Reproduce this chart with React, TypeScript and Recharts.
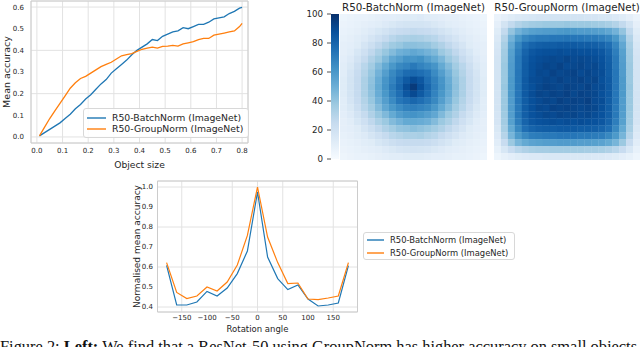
import React from 'react';
import {
  LineChart,
  Line,
  XAxis,
  YAxis,
  CartesianGrid,
  Legend,
  ReferenceArea,
  ScatterChart,
  Scatter,
  BarChart,
  Bar,
} from 'recharts';

// ---- top left: accuracy vs object size ----
const objectSize = [
  0.01, 0.03, 0.05, 0.07, 0.09, 0.11, 0.13, 0.15, 0.17, 0.19, 0.21, 0.23, 0.25, 0.27,
  0.29, 0.31, 0.33, 0.35, 0.37, 0.39, 0.41, 0.43, 0.45, 0.47, 0.49, 0.51, 0.53, 0.55,
  0.57, 0.59, 0.61, 0.63, 0.65, 0.67, 0.69, 0.71, 0.73, 0.75, 0.77, 0.79, 0.8,
];
const batchNormBySize = [
  0.005, 0.02, 0.035, 0.05, 0.065, 0.085, 0.105, 0.13, 0.15, 0.175, 0.195, 0.22, 0.245,
  0.265, 0.295, 0.315, 0.335, 0.355, 0.38, 0.4, 0.415, 0.43, 0.45, 0.445, 0.465, 0.475,
  0.485, 0.49, 0.505, 0.5, 0.51, 0.52, 0.52, 0.53, 0.545, 0.55, 0.555, 0.57, 0.58, 0.595,
  0.598,
];
const groupNormBySize = [
  0.005, 0.045, 0.085, 0.12, 0.155, 0.19, 0.225, 0.25, 0.27, 0.28, 0.295, 0.31, 0.325,
  0.335, 0.345, 0.36, 0.375, 0.38, 0.385, 0.395, 0.405, 0.41, 0.415, 0.41, 0.418, 0.42,
  0.423, 0.42, 0.43, 0.435, 0.44, 0.45, 0.455, 0.455, 0.47, 0.475, 0.48, 0.485, 0.49,
  0.51, 0.525,
];
const sizeTicks = [0, 0.1, 0.2, 0.3, 0.4, 0.5, 0.6, 0.7, 0.8];
const accTicks = [0, 0.1, 0.2, 0.3, 0.4, 0.5, 0.6];

// ---- bottom: accuracy vs rotation ----
const angles = [
  -180, -160, -140, -120, -100, -80, -60, -40, -20, 0, 20, 40, 60, 80, 100, 120, 140, 160, 180,
];
const batchNormByAngle = [
  0.608, 0.41, 0.41, 0.425, 0.478, 0.455, 0.495, 0.567, 0.68, 0.975, 0.65, 0.542, 0.487,
  0.51, 0.44, 0.405, 0.41, 0.42, 0.607,
];
const groupNormByAngle = [
  0.622, 0.473, 0.442, 0.455, 0.5, 0.48, 0.525, 0.61, 0.758, 1.0, 0.75, 0.622, 0.517, 0.52,
  0.44, 0.437, 0.445, 0.455, 0.622,
];
const angleTicks = [-150, -100, -50, 0, 50, 100, 150];
const normTicks = [0.4, 0.5, 0.6, 0.7, 0.8, 0.9, 1.0];

// ---- top right: accuracy heatmaps (percent), 21 x 21 cells ----
const batchNormGrid = [
  [5, 6, 7, 7, 8, 9, 10, 10, 11, 12, 12, 13, 11, 11, 10, 9, 9, 8, 7, 6, 5],
  [6, 7, 8, 9, 10, 11, 13, 15, 17, 18, 18, 18, 17, 15, 13, 11, 10, 9, 8, 7, 6],
  [7, 8, 9, 11, 13, 16, 19, 22, 24, 25, 26, 25, 24, 22, 19, 16, 13, 11, 9, 8, 7],
  [8, 9, 11, 13, 17, 21, 25, 29, 32, 33, 34, 33, 31, 29, 25, 21, 17, 13, 11, 9, 8],
  [9, 10, 12, 17, 22, 27, 32, 37, 39, 42, 42, 41, 40, 36, 32, 27, 22, 17, 12, 10, 9],
  [9, 11, 16, 21, 27, 33, 39, 44, 49, 51, 53, 51, 48, 45, 38, 33, 27, 21, 16, 11, 9],
  [10, 13, 19, 25, 32, 38, 45, 53, 57, 62, 61, 63, 57, 52, 46, 38, 32, 25, 19, 13, 10],
  [11, 15, 22, 29, 36, 44, 52, 60, 66, 68, 72, 68, 65, 61, 52, 44, 36, 29, 22, 15, 11],
  [11, 17, 24, 31, 39, 48, 57, 66, 72, 77, 78, 76, 73, 65, 57, 48, 39, 31, 24, 17, 11],
  [12, 18, 25, 33, 41, 51, 61, 68, 77, 84, 89, 85, 76, 69, 61, 51, 41, 33, 25, 18, 12],
  [12, 18, 25, 33, 42, 52, 62, 71, 79, 89, 96, 88, 79, 70, 62, 52, 42, 33, 25, 18, 12],
  [12, 18, 25, 33, 41, 51, 60, 69, 76, 85, 90, 84, 77, 68, 60, 51, 41, 33, 25, 18, 12],
  [11, 17, 24, 31, 39, 48, 57, 65, 73, 76, 79, 76, 72, 66, 57, 48, 39, 31, 24, 17, 11],
  [11, 15, 22, 29, 36, 44, 53, 60, 65, 69, 70, 68, 66, 60, 52, 44, 36, 29, 22, 15, 11],
  [10, 13, 19, 25, 32, 39, 45, 52, 58, 61, 62, 60, 57, 53, 45, 38, 32, 25, 19, 13, 10],
  [9, 11, 16, 21, 27, 33, 38, 44, 48, 52, 52, 51, 49, 44, 38, 33, 27, 21, 16, 11, 9],
  [9, 10, 12, 17, 22, 27, 32, 36, 40, 41, 43, 41, 39, 36, 32, 27, 22, 17, 12, 10, 9],
  [8, 9, 11, 13, 17, 21, 25, 29, 31, 33, 33, 34, 31, 29, 25, 21, 17, 13, 11, 9, 8],
  [7, 8, 9, 11, 12, 16, 19, 22, 24, 25, 25, 25, 24, 22, 19, 16, 12, 11, 9, 8, 7],
  [6, 7, 8, 9, 10, 11, 13, 15, 17, 18, 19, 18, 17, 15, 13, 11, 10, 9, 8, 7, 6],
  [5, 6, 7, 7, 8, 9, 10, 11, 11, 12, 12, 12, 11, 10, 10, 9, 8, 8, 7, 6, 5],
];
const groupNormGrid = [
  [6, 9, 12, 14, 15, 16, 17, 17, 18, 18, 18, 18, 18, 17, 17, 16, 16, 14, 12, 9, 6],
  [9, 18, 26, 31, 34, 36, 37, 38, 38, 38, 39, 38, 38, 38, 37, 36, 34, 31, 26, 18, 9],
  [12, 26, 40, 48, 53, 56, 57, 58, 58, 59, 60, 59, 58, 58, 57, 56, 53, 48, 40, 26, 12],
  [14, 31, 48, 60, 67, 70, 72, 72, 73, 73, 74, 73, 73, 72, 72, 70, 67, 60, 48, 31, 14],
  [16, 34, 53, 67, 76, 80, 82, 83, 83, 84, 84, 84, 83, 83, 82, 80, 76, 67, 53, 34, 16],
  [17, 36, 56, 70, 80, 85, 87, 88, 88, 89, 88, 89, 88, 88, 87, 85, 80, 70, 56, 36, 17],
  [18, 37, 57, 72, 82, 87, 89, 90, 91, 90, 92, 90, 91, 90, 89, 87, 82, 72, 57, 37, 18],
  [18, 38, 58, 72, 83, 88, 90, 92, 91, 93, 90, 91, 92, 90, 91, 88, 83, 72, 58, 38, 18],
  [18, 38, 58, 73, 83, 88, 91, 90, 93, 91, 92, 93, 90, 92, 90, 89, 83, 73, 58, 38, 18],
  [18, 38, 59, 73, 84, 89, 90, 92, 91, 93, 91, 92, 93, 91, 92, 88, 84, 73, 59, 38, 18],
  [18, 39, 59, 73, 84, 88, 91, 93, 92, 91, 93, 92, 91, 93, 90, 89, 84, 73, 59, 39, 18],
  [18, 38, 59, 73, 84, 89, 92, 91, 93, 92, 94, 91, 93, 92, 91, 88, 84, 73, 59, 38, 18],
  [18, 38, 58, 73, 83, 88, 90, 92, 91, 94, 92, 93, 92, 94, 90, 89, 83, 73, 58, 38, 18],
  [18, 38, 58, 72, 83, 88, 91, 90, 93, 92, 93, 92, 91, 92, 91, 88, 83, 72, 58, 38, 18],
  [17, 37, 57, 72, 82, 87, 89, 91, 90, 92, 91, 92, 90, 91, 89, 87, 82, 72, 57, 37, 17],
  [17, 36, 56, 70, 80, 85, 87, 88, 89, 88, 89, 88, 89, 88, 87, 85, 80, 70, 56, 36, 17],
  [15, 34, 52, 66, 76, 80, 82, 83, 83, 84, 84, 84, 83, 83, 82, 80, 76, 66, 52, 34, 15],
  [13, 30, 47, 59, 66, 70, 71, 72, 72, 73, 73, 73, 72, 72, 71, 70, 66, 59, 47, 30, 13],
  [11, 24, 38, 47, 52, 55, 56, 57, 57, 58, 58, 58, 57, 57, 56, 55, 52, 47, 38, 24, 11],
  [8, 16, 24, 29, 32, 34, 35, 35, 36, 36, 36, 36, 36, 35, 35, 34, 32, 29, 24, 16, 8],
  [5, 8, 10, 12, 13, 14, 14, 15, 15, 15, 15, 15, 15, 15, 14, 14, 13, 12, 10, 8, 5],
];
const colorbarTicks = [0, 20, 40, 60, 80, 100];

const seriesNames = ['R50-BatchNorm (ImageNet)', 'R50-GroupNorm (ImageNet)'];

const BLUE = '#1f77b4';
const ORANGE = '#ff7f0e';
const TEXT = '#262626';
const GRID = '#e2e2e2';
const FRAME = '#cccccc';
const FONT = '"DejaVu Sans", Verdana, sans-serif';

// matplotlib "Blues"
const BLUES = ['#f7fbff', '#deebf7', '#c6dbef', '#9ecae1', '#6baed6', '#4292c6', '#2171b5', '#08519c', '#08306b'];

function hex(c: string) {
  return [1, 3, 5].map((i) => parseInt(c.slice(i, i + 2), 16));
}
function blues(v: number) {
  const t = Math.max(0, Math.min(1, v / 100)) * 8;
  const i = Math.min(7, Math.floor(t));
  const f = t - i;
  const a = hex(BLUES[i]);
  const b = hex(BLUES[i + 1]);
  const m = a.map((x, k) => Math.round(x + (b[k] - x) * f));
  return `rgb(${m[0]},${m[1]},${m[2]})`;
}

const sizeData = objectSize.map((s, i) => ({ size: s, bn: batchNormBySize[i], gn: groupNormBySize[i] }));
const angleData = angles.map((a, i) => ({ angle: a, bn: batchNormByAngle[i], gn: groupNormByAngle[i] }));

const fmt1 = (v: number) => v.toFixed(1);
const fmtAngle = (v: number) => (v < 0 ? '\u2212' + Math.abs(v) : String(v));

type LegendBoxProps = {
  fontSize: number;
  rowHeight: number;
  lineLen: number;
  padTop: number;
};

const LegendBox = ({ fontSize, rowHeight, lineLen, padTop }: LegendBoxProps) => (
  <div
    style={{
      border: '1px solid #d8d8d8',
      borderRadius: 3,
      background: 'rgba(255,255,255,0.85)',
      boxSizing: 'border-box',
      width: '100%',
      height: '100%',
      paddingTop: padTop,
      fontFamily: FONT,
      fontSize,
      color: TEXT,
    }}
  >
    {[BLUE, ORANGE].map((c, i) => (
      <div key={i} style={{ display: 'flex', alignItems: 'center', height: rowHeight, whiteSpace: 'nowrap' }}>
        <svg width={lineLen + 9} height={4} style={{ flex: 'none' }}>
          <line x1={3} x2={3 + lineLen} y1={2} y2={2} stroke={c} strokeWidth={1.4} />
        </svg>
        <span>{seriesNames[i]}</span>
      </div>
    ))}
  </div>
);

const HM = 21;

const makeCells = (grid: number[][]) =>
  grid.flatMap((row, r) => row.map((v, c) => ({ col: c + 0.5, row: r + 0.5, v })));

const Heatmap = ({ grid, title, left, width }: { grid: number[][]; title: string; left: number; width: number }) => {
  const cell = width / HM;
  const cellH = 146 / HM;
  const HeatCell = (props: any) => {
    const { cx, cy, payload } = props;
    return (
      <rect
        x={cx - cell / 2}
        y={cy - cellH / 2}
        width={cell + 0.4}
        height={cellH + 0.4}
        fill={blues(payload.v)}
      />
    );
  };
  return (
    <div style={{ position: 'absolute', left, top: 0 }}>
      <ScatterChart width={width} height={160} margin={{ top: 0, right: 0, bottom: 0, left: 0 }}>
        <XAxis
          type="number"
          dataKey="col"
          domain={[0, HM]}
          orientation="top"
          height={14}
          tick={false}
          tickLine={false}
          axisLine={false}
          label={{ value: title, position: 'center', fill: TEXT, fontSize: 10.3, fontFamily: FONT }}
        />
        <YAxis type="number" dataKey="row" domain={[0, HM]} reversed hide />
        <Scatter data={makeCells(grid)} shape={HeatCell} isAnimationActive={false} />
      </ScatterChart>
    </div>
  );
};

export default function App() {
  const tickStyle = { fill: TEXT, fontSize: 7, fontFamily: FONT };
  return (
    <div style={{ position: 'absolute', left: 0, top: 0, width: 640, height: 347, background: '#fff', overflow: 'hidden' }}>
      {/* object size chart */}
      <div style={{ position: 'absolute', left: 0, top: 0 }}>
        <LineChart width={260} height={170} data={sizeData} margin={{ top: 1, right: 12, bottom: 0, left: 0 }}>
          <CartesianGrid stroke={GRID} strokeWidth={1} />
          <XAxis
            type="number"
            dataKey="size"
            domain={[-0.023, 0.823]}
            ticks={sizeTicks}
            tickFormatter={fmt1}
            height={27}
            tickSize={0}
            tickMargin={5}
            axisLine={false}
            tick={tickStyle}
            label={{ value: 'Object size', position: 'insideBottom', offset: 2, fill: TEXT, fontSize: 9.2, fontFamily: FONT }}
          />
          <YAxis
            type="number"
            domain={[-0.028, 0.628]}
            ticks={accTicks}
            tickFormatter={fmt1}
            width={31}
            tickSize={0}
            tickMargin={7}
            axisLine={false}
            tick={tickStyle}
            label={{
              value: 'Mean accuracy',
              angle: -90,
              position: 'insideLeft',
              offset: 6.5,
              fill: TEXT,
              fontSize: 9.5,
              fontFamily: FONT,
              style: { textAnchor: 'middle' },
            }}
          />
          <ReferenceArea x1={-0.023} x2={0.823} y1={-0.028} y2={0.628} fill="none" stroke={FRAME} strokeWidth={1} />
          <Line type="linear" dataKey="bn" name={seriesNames[0]} stroke={BLUE} strokeWidth={1.3} dot={false} isAnimationActive={false} />
          <Line type="linear" dataKey="gn" name={seriesNames[1]} stroke={ORANGE} strokeWidth={1.3} dot={false} isAnimationActive={false} />
          <Legend
            layout="vertical"
            align="center"
            verticalAlign="middle"
            wrapperStyle={{ left: 83, top: 108, width: 166, height: 30 }}
            content={() => <LegendBox fontSize={9.3} rowHeight={11} lineLen={19} padTop={3} />}
          />
        </LineChart>
      </div>

      {/* colour bar */}
      <div style={{ position: 'absolute', left: 290, top: 0 }}>
        <BarChart
          width={49}
          height={170}
          data={[{ name: 'scale', v: 100 }]}
          margin={{ top: 14, right: 0, bottom: 11, left: 0 }}
          barCategoryGap={0}
        >
          <defs>
            <linearGradient id="bluesBar" x1="0" y1="1" x2="0" y2="0">
              {BLUES.map((c, i) => (
                <stop key={i} offset={i / 8} stopColor={c} />
              ))}
            </linearGradient>
          </defs>
          <XAxis dataKey="name" hide />
          <YAxis
            type="number"
            domain={[0, 100]}
            ticks={colorbarTicks}
            width={41}
            tickSize={4}
            tickMargin={4}
            axisLine={false}
            tickLine={{ stroke: TEXT, strokeWidth: 0.8 }}
            tick={{ fill: TEXT, fontSize: 8.7, fontFamily: FONT }}
          />
          <Bar dataKey="v" fill="url(#bluesBar)" isAnimationActive={false} />
        </BarChart>
      </div>

      <Heatmap grid={batchNormGrid} title={seriesNames[0]} left={340} width={147} />
      <Heatmap grid={groupNormGrid} title={seriesNames[1]} left={494} width={146} />

      {/* rotation chart */}
      <div style={{ position: 'absolute', left: 128, top: 176 }}>
        <LineChart width={400} height={171} data={angleData} margin={{ top: 5, right: 170.5, bottom: 0, left: 0 }}>
          <CartesianGrid stroke={GRID} strokeWidth={1} />
          <XAxis
            type="number"
            dataKey="angle"
            domain={[-198, 198]}
            ticks={angleTicks}
            tickFormatter={fmtAngle}
            height={35}
            tickSize={0}
            tickMargin={3}
            axisLine={false}
            tick={tickStyle}
            label={{ value: 'Rotation angle', position: 'insideBottom', offset: 15, fill: TEXT, fontSize: 8.5, fontFamily: FONT }}
          />
          <YAxis
            type="number"
            domain={[0.375, 1.03]}
            ticks={normTicks}
            tickFormatter={fmt1}
            width={29.5}
            tickSize={0}
            tickMargin={4.5}
            axisLine={false}
            tick={tickStyle}
            label={{
              value: 'Normalised mean accuracy',
              angle: -90,
              position: 'insideLeft',
              offset: 8.7,
              fill: TEXT,
              fontSize: 9,
              fontFamily: FONT,
              style: { textAnchor: 'middle' },
            }}
          />
          <ReferenceArea x1={-198} x2={198} y1={0.375} y2={1.03} fill="none" stroke={FRAME} strokeWidth={1} />
          <Line type="linear" dataKey="bn" name={seriesNames[0]} stroke={BLUE} strokeWidth={1.2} dot={false} isAnimationActive={false} />
          <Line type="linear" dataKey="gn" name={seriesNames[1]} stroke={ORANGE} strokeWidth={1.2} dot={false} isAnimationActive={false} />
          <Legend
            layout="vertical"
            align="center"
            verticalAlign="middle"
            wrapperStyle={{ left: 235, top: 56, width: 152, height: 28 }}
            content={() => <LegendBox fontSize={8.4} rowHeight={13.4} lineLen={17} padTop={0} />}
          />
        </LineChart>
      </div>

      {/* caption, cropped at the bottom edge as in the source figure */}
      <svg style={{ position: 'absolute', left: 0, top: 330 }} width={640} height={17}>
        <text x={0} y={21.5} fontFamily='"Liberation Serif", "Times New Roman", serif' fontSize={16.4} fill="#111">
          Figure 2: <tspan fontWeight="bold">Left:</tspan> We find that a ResNet-50 using GroupNorm has higher accuracy on small objects
        </text>
      </svg>
    </div>
  );
}
